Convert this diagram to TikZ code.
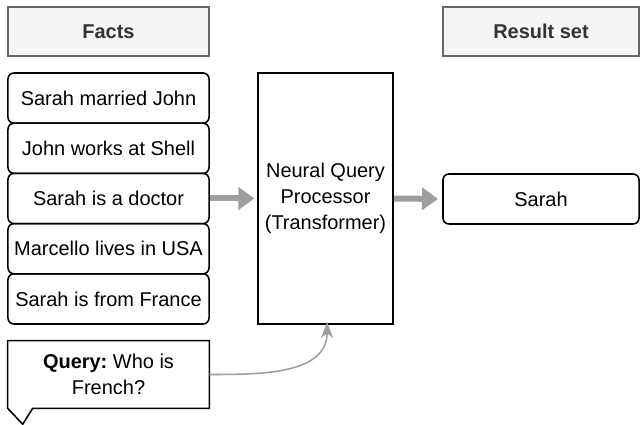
\documentclass[tikz,border=0pt]{standalone}
\usepackage{fontspec}
\setmainfont{Liberation Sans}
\usetikzlibrary{arrows.meta}

\definecolor{headfill}{HTML}{F5F5F5}
\definecolor{headline}{HTML}{666666}
\definecolor{headtext}{HTML}{333333}
\definecolor{flowgray}{HTML}{9E9E9E}

\newcommand{\boxfont}{\fontsize{14.2}{18.5}\selectfont}

\tikzset{
  header/.style={draw=headline, fill=headfill, text=headtext, line width=1.1pt,
    minimum height=1.225cm, inner sep=0pt, font=\boxfont\bfseries},
  fact/.style={draw, rounded corners=0.15cm, line width=1.1pt,
    minimum width=5.025cm, minimum height=1.255cm, inner sep=0pt},
  flow/.style={draw=flowgray, line width=0.15cm,
    -{Triangle[length=0.4cm, width=0.55cm]}},
  query/.style={draw=flowgray, line width=1.1pt,
    -{Stealth[length=0.4cm, width=0.3cm, inset=0.12cm]}}
}

\begin{document}
\begin{tikzpicture}[x=0.025cm, y=-0.025cm, font=\boxfont]

\useasboundingbox (0,0) rectangle (640,425) ;

% column headers
\node [header, minimum width=5.025cm] (factshead) at (108.5,31.5) {Facts} ;
\node [header, minimum width=4.9cm] (resulthead) at (541,31.5) {Result set} ;

% the facts
\node [fact] (fact1) at (108.5,98.1) {Sarah married John} ;
\node [fact] (fact2) at (108.5,148.3) {John works at Shell} ;
\node [fact] (fact3) at (108.5,198.5) {Sarah is a doctor} ;
\node [fact] (fact4) at (108.5,248.7) {Marcello lives in USA} ;
\node [fact] (fact5) at (108.5,298.9) {Sarah is from France} ;

% processor and result
\node [draw, line width=1.1pt, minimum width=3.375cm, minimum height=6.275cm,
  inner sep=0pt, align=center] (proc) at (325.5,198.5)
  {Neural Query\\Processor\\(Transformer)} ;
\node [fact, minimum width=4.9cm, minimum height=1.25cm] (sarah) at (541,199) {Sarah} ;

\draw [flow, shorten >=2pt] (fact3.east) -- (proc.west) ;
\draw [flow, shorten >=3pt] (proc.east) -- (sarah.west) ;

% query callout
\node [minimum width=5.025cm, minimum height=1.675cm, inner sep=0pt, align=center]
  (query) at (108.5,374.5) {\textbf{Query:}~Who is\\French?} ;
\draw [line width=1.1pt, line join=miter]
  (query.south west) -- (query.north west) -- (query.north east)
  -- (query.south east) -- ([xshift=0.625cm]query.south west)
  -- ([xshift=0.375cm, yshift=-0.4cm]query.south west) -- cycle ;
\coordinate (procin) at ([xshift=0.04cm]proc.south) ;

\draw [query, shorten >=-2pt] (query.east) to [out=0, in=-90] (procin) ;

\end{tikzpicture}
\end{document}
